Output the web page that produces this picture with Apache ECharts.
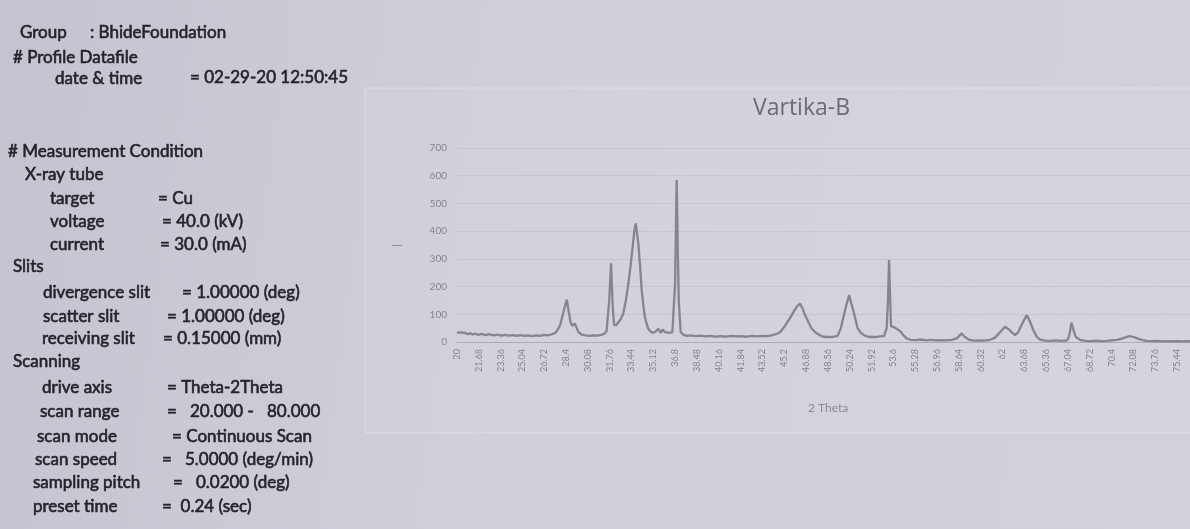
<!DOCTYPE html>
<html>
<head>
    <meta charset="utf-8">
    <title>Vartika-B</title>
    <script src="https://cdn.jsdelivr.net/npm/echarts@6.0.0/dist/echarts.min.js"></script>
    <style>
        html, body { margin: 0; padding: 0; }
        #main { width: 1190px; height: 529px; }
    </style>
</head>
<body>
<div id="main"></div>
<script type="text/javascript">
    // 2 theta (deg) of the points
    var twoTheta = [
        20.0, 20.15, 20.3, 20.45, 20.6, 20.8, 21.0, 21.2, 21.4, 21.65, 21.9, 22.2, 22.5, 22.8, 23.1, 23.4,
        23.7, 24.0, 24.3, 24.6, 24.9, 25.2, 25.5, 25.8, 26.1, 26.4, 26.7, 27.0, 27.3, 27.6, 27.8, 27.95,
        28.1, 28.25, 28.45, 28.6, 28.75, 28.9, 29.08, 29.2, 29.35, 29.6, 29.9, 30.2, 30.5, 30.8, 31.1, 31.35,
        31.52, 31.72, 31.86, 31.99, 32.09, 32.25, 32.39, 32.6, 32.8, 33.0, 33.19, 33.35, 33.5, 33.65, 33.76, 33.96,
        34.1, 34.22, 34.35, 34.47, 34.6, 34.73, 34.9, 35.11, 35.3, 35.5, 35.68, 35.84, 36.0, 36.14, 36.35, 36.58,
        36.79, 36.91, 37.0, 37.07, 37.22, 37.45, 37.7, 38.0, 38.3, 38.7, 39.1, 39.5, 39.9, 40.3, 40.7, 41.1,
        41.5, 41.9, 42.3, 42.7, 43.1, 43.5, 43.9, 44.3, 44.6, 44.87, 45.25, 45.63, 45.9, 46.15, 46.4, 46.6,
        46.79, 47.05, 47.3, 47.6, 47.94, 48.2, 48.6, 49.0, 49.3, 49.55, 49.75, 49.94, 50.19, 50.35, 50.5, 50.84,
        51.1, 51.35, 51.65, 52.0, 52.4, 52.88, 53.08, 53.18, 53.26, 53.34, 53.41, 53.55, 53.72, 53.9, 54.1, 54.35,
        54.62, 54.9, 55.3, 55.7, 56.1, 56.5, 56.9, 57.3, 57.7, 58.1, 58.5, 58.85, 59.1, 59.4, 59.8, 60.2,
        60.6, 61.03, 61.4, 61.8, 62.19, 62.5, 62.75, 62.96, 63.2, 63.5, 63.86, 64.1, 64.35, 64.63, 64.88, 65.3,
        65.7, 66.1, 66.5, 66.96, 67.1, 67.2, 67.3, 67.45, 67.6, 67.74, 68.0, 68.4, 68.8, 69.2, 69.6, 70.0,
        70.4, 70.8, 71.2, 71.5, 71.8, 72.1, 72.4, 72.8, 73.1, 73.5, 73.9, 74.3, 74.7, 75.1, 75.5, 75.9,
        76.3, 76.7, 77.1
    ];
    // counts at those points
    var intensity = [
        34, 30, 35, 29, 33, 28, 32, 27, 30, 26, 29, 25, 28, 24, 27, 23,
        26, 23, 25, 22, 25, 22, 24, 21, 24, 22, 26, 24, 28, 34, 48, 62,
        90, 118, 153, 110, 70, 58, 67, 52, 36, 27, 24, 22, 24, 23, 26, 30,
        40, 151, 284, 127, 62, 60, 67, 82, 103, 150, 211, 270, 332, 400, 428, 356,
        270, 187, 130, 90, 65, 48, 38, 33, 38, 48, 33, 45, 36, 30, 33, 36,
        211, 585, 330, 150, 36, 26, 22, 24, 21, 23, 20, 22, 19, 21, 19, 22,
        20, 21, 19, 22, 20, 22, 21, 25, 29, 35, 58, 86, 108, 127, 139, 122,
        97, 72, 49, 34, 24, 19, 18, 19, 22, 50, 90, 127, 169, 140, 115, 50,
        33, 24, 19, 18, 19, 22, 50, 150, 296, 170, 57, 50, 52, 46, 40, 25,
        13, 8, 7, 9, 6, 8, 6, 7, 6, 8, 14, 31, 18, 9, 5, 6,
        5, 8, 15, 35, 55, 45, 33, 25, 35, 65, 97, 75, 45, 19, 9, 5,
        4, 6, 4, 6, 18, 40, 70, 45, 22, 14, 7, 4, 3, 5, 3, 4,
        6, 8, 12, 18, 21, 18, 12, 7, 4, 3, 4, 2, 3, 2, 3, 2,
        3, 2, 3
    ];
    // tick labels on the 2 Theta axis (every 1.68 deg)
    var xTicks = [20, 21.68, 23.36, 25.04, 26.72, 28.4, 30.08, 31.76, 33.44, 35.12, 36.8, 38.48, 40.16,
        41.84, 43.52, 45.2, 46.88, 48.56, 50.24, 51.92, 53.6, 55.28, 56.96, 58.64, 60.32, 62, 63.68,
        65.36, 67.04, 68.72, 70.4, 72.08, 73.76, 75.44];

    var pts = twoTheta.map(function (t, i) {
        return [t, intensity[i]];
    });

    //左侧测量条件文字
    var ink = '#24242d';
    var txt = function (x, y, s) {
        return {
            type: 'text', x: x, y: y, silent: true,
            style: {
                text: s, fill: ink, font: '17px Lato', verticalAlign: 'middle',
                stroke: ink, lineWidth: 0.6
            }
        };
    };

    var myChart = echarts.init(document.getElementById('main'));
    myChart.setOption({
        animation: false,
        backgroundColor: {
            type: 'linear', x: 0, y: 0, x2: 1, y2: 0.3,
            colorStops: [
                {offset: 0, color: '#c4c3cf'},
                {offset: 0.45, color: '#d0cfda'},
                {offset: 1, color: '#d2d0db'}
            ]
        },
        title: {
            text: 'Vartika-B',
            left: 753, top: 97, padding: 0,
            textStyle: {fontFamily: 'Open Sans', fontSize: 23, fontWeight: 'normal', color: '#6c6c75'}
        },
        graphic: [
            {
                type: 'rect', silent: true, z: -1,
                shape: {x: 365, y: 88, width: 840, height: 345},
                style: {fill: 'rgba(255,255,255,0.07)', stroke: 'rgba(255,255,255,0.3)', lineWidth: 1}
            },
            txt(20, 33, 'Group'), txt(90, 33, ': BhideFoundation'),
            txt(13, 58, '# Profile Datafile'),
            txt(55, 79, 'date & time'), txt(190, 78, '= 02-29-20 12:50:45'),
            txt(8, 152, '# Measurement Condition'),
            txt(25, 175, 'X-ray tube'),
            txt(50, 199, 'target'), txt(158, 199, '= Cu'),
            txt(50, 222, 'voltage'), txt(162, 222, '= 40.0 (kV)'),
            txt(50, 245, 'current'), txt(160, 245, '= 30.0 (mA)'),
            txt(13, 267, 'Slits'),
            txt(43, 293, 'divergence slit'), txt(182, 293, '= 1.00000 (deg)'),
            txt(43, 317, 'scatter slit'), txt(167, 317, '= 1.00000 (deg)'),
            txt(42, 339, 'receiving slit'), txt(163, 339, '= 0.15000 (mm)'),
            txt(13, 362, 'Scanning'),
            txt(42, 388, 'drive axis'), txt(167, 388, '= Theta-2Theta'),
            txt(40, 412, 'scan range'), txt(167, 412, '=   20.000 -   80.000'),
            txt(37, 437, 'scan mode'), txt(172, 437, '= Continuous Scan'),
            txt(35, 460, 'scan speed'), txt(162, 460, '=   5.0000 (deg/min)'),
            txt(33, 483, 'sampling pitch'), txt(173, 483, '=   0.0200 (deg)'),
            txt(33, 507, 'preset time'), txt(162, 507, '=  0.24 (sec)')
        ],
        // the photo cuts the plot off at about 76.4 deg
        grid: {left: 457, right: 0, top: 148, bottom: 187},
        xAxis: {
            type: 'value', min: 20, max: 76.43,
            name: '2 Theta', nameLocation: 'start', nameGap: -351,
            nameTextStyle: {
                fontFamily: 'Lato', fontSize: 12, color: '#8a8a93',
                align: 'left', verticalAlign: 'top', padding: [60, 0, 0, 0]
            },
            axisLine: {show: true, lineStyle: {color: 'rgba(140,140,155,0.45)'}},
            axisTick: {show: false},
            splitLine: {show: false},
            axisLabel: {
                customValues: xTicks, rotate: 90, margin: 7,
                fontFamily: 'Lato', fontSize: 9, color: '#84848e'
            }
        },
        yAxis: {
            type: 'value', min: 0, max: 700, interval: 100,
            name: '—', nameLocation: 'middle', nameGap: 55, nameRotate: 0,
            nameTextStyle: {fontSize: 10, color: '#7a7a84'},
            axisLine: {show: false},
            axisTick: {show: false},
            splitLine: {lineStyle: {color: 'rgba(150,150,170,0.22)'}},
            axisLabel: {fontFamily: 'Lato', fontSize: 10, color: '#84848e', margin: 10}
        },
        series: [{
            type: 'line',
            data: pts,
            showSymbol: false,
            lineStyle: {width: 2.3, color: '#85858e'}
        }]
    });
</script>
</body>
</html>
